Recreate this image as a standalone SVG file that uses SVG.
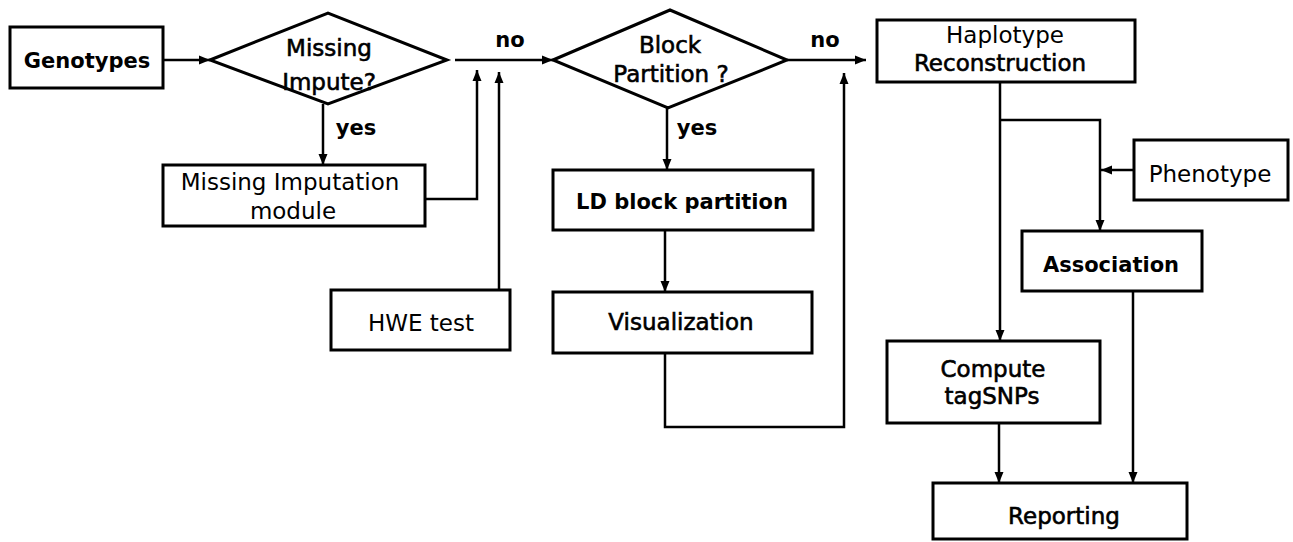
<svg xmlns="http://www.w3.org/2000/svg" width="1293" height="542" viewBox="0 0 1293 542">
<style>
.box{fill:#fff;stroke:#000;stroke-width:3}
.t{font-family:"DejaVu Sans",Verdana,sans-serif;font-size:23px;fill:#000;text-anchor:middle}
.sb{stroke:#000;stroke-width:0.6}
.b{font-family:"DejaVu Sans",Verdana,sans-serif;font-size:21px;font-weight:bold;fill:#000;text-anchor:middle}
.l{font-family:"DejaVu Sans",Verdana,sans-serif;font-size:21px;font-weight:bold;fill:#000;text-anchor:middle}
.c{fill:none;stroke:#000;stroke-width:2.5}
</style>
<defs>
<marker id="ah" markerUnits="userSpaceOnUse" markerWidth="11" markerHeight="11" viewBox="0 0 11 11" refX="11" refY="5.5" orient="auto">
<path d="M0,1 L11,5.5 L0,10 Z" fill="#000"/>
</marker>
</defs>
<rect width="1293" height="542" fill="#fff"/>
<g id="connectors">
<path class="c" d="M163,60 H210" marker-end="url(#ah)"/>
<path class="c" d="M323,104 V165" marker-end="url(#ah)"/>
<path class="c" d="M425,199 H477 V70" marker-end="url(#ah)"/>
<path class="c" d="M455,60 H553" marker-end="url(#ah)"/>
<path class="c" d="M499,290 V72" marker-end="url(#ah)"/>
<path class="c" d="M667,108 V170" marker-end="url(#ah)"/>
<path class="c" d="M665,230 V292" marker-end="url(#ah)"/>
<path class="c" d="M665,353 V427 H844 V73" marker-end="url(#ah)"/>
<path class="c" d="M787,60 H866" marker-end="url(#ah)"/>
<path class="c" d="M1000,82 V341" marker-end="url(#ah)"/>
<path class="c" d="M1000,120 H1100 V231" marker-end="url(#ah)"/>
<path class="c" d="M1134,170 H1101" marker-end="url(#ah)"/>
<path class="c" d="M999,423 V483" marker-end="url(#ah)"/>
<path class="c" d="M1133,291 V483" marker-end="url(#ah)"/>
<text class="l" x="510" y="47">no</text>
<text class="l" x="825" y="47">no</text>
<text class="l" x="356" y="135">yes</text>
<text class="l" x="697" y="135">yes</text>
</g>
<g id="genotypes">
<rect class="box" x="10" y="27" width="153" height="61"/>
<text class="b" x="87" y="68">Genotypes</text>
</g>
<g id="missing-impute">
<polygon class="box" points="210,60 328,13 447,60 328,104"/>
<text class="t sb" x="329" y="56">Missing</text>
<text class="t sb" x="329" y="90">Impute?</text>
</g>
<g id="missing-imputation-module">
<rect class="box" x="163" y="165" width="262" height="61"/>
<text class="t" x="290" y="190">Missing Imputation</text>
<text class="t" x="293" y="219">module</text>
</g>
<g id="hwe-test">
<rect class="box" x="331" y="290" width="179" height="60"/>
<text class="t" x="421" y="331">HWE test</text>
</g>
<g id="block-partition">
<polygon class="box" points="553,60 670,10 787,60 668,108"/>
<text class="t sb" x="670" y="53">Block</text>
<text class="t sb" x="671" y="82">Partition ?</text>
</g>
<g id="ld-block-partition">
<rect class="box" x="553" y="170" width="260" height="60"/>
<text class="b" x="682" y="209">LD block partition</text>
</g>
<g id="visualization">
<rect class="box" x="553" y="292" width="259" height="61"/>
<text class="t sb" x="681" y="330">Visualization</text>
</g>
<g id="haplotype-reconstruction">
<rect class="box" x="877" y="20" width="258" height="62"/>
<text class="t" x="1005" y="43">Haplotype</text>
<text class="t sb" x="1000" y="71">Reconstruction</text>
</g>
<g id="phenotype">
<rect class="box" x="1134" y="140" width="154" height="60"/>
<text class="t" x="1210" y="182">Phenotype</text>
</g>
<g id="association">
<rect class="box" x="1022" y="231" width="180" height="60"/>
<text class="b" x="1111" y="272">Association</text>
</g>
<g id="compute-tagsnps">
<rect class="box" x="887" y="341" width="213" height="82"/>
<text class="t sb" x="993" y="377">Compute</text>
<text class="t sb" x="992" y="404">tagSNPs</text>
</g>
<g id="reporting">
<rect class="box" x="933" y="483" width="254" height="56"/>
<text class="t sb" x="1064" y="524">Reporting</text>
</g>
</svg>
